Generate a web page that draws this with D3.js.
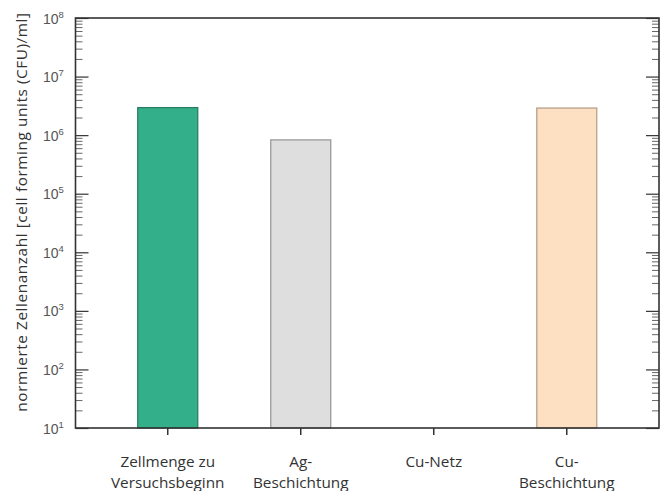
<!DOCTYPE html>
<html>
<head>
<meta charset="utf-8">
<script src="https://cdn.jsdelivr.net/npm/d3@7"></script>
<style>
  html, body { margin: 0; padding: 0; background: #fff; }
  svg { display: block; }
</style>
</head>
<body>
<svg id="chart" width="665" height="491"></svg>
<script>
// Cell counts per sample (CFU/ml); no bar where the count is below the axis
const categories = ["Zellmenge zu Versuchsbeginn", "Ag-Beschichtung", "Cu-Netz", "Cu-Beschichtung"];
const categoryLines = [["Zellmenge zu", "Versuchsbeginn"], ["Ag-", "Beschichtung"], ["Cu-Netz"], ["Cu-", "Beschichtung"]];
const cellCounts = [2.95e6, 8.3e5, null, 2.9e6];
const barFills = ["#33b08a", "#dedede", null, "#fddfc2"];
const barStrokes = ["#2b7e62", "#9a9a9a", null, "#b8a08a"];
const yExponents = [1, 2, 3, 4, 5, 6, 7, 8];
const yTitle = "normierte Zellenanzahl [cell forming units (CFU)/ml]";

const svg = d3.select("#chart");
const plotLeft = 75.5, plotRight = 659, plotTop = 18, plotBottom = 428;

const x = d3.scaleBand()
  .domain(categories)
  .range([plotLeft, plotRight])
  .paddingInner(0.549)
  .paddingOuter(0.468);

const y = d3.scaleLog()
  .domain([1e1, 1e8])
  .range([plotBottom, plotTop]);

// Bars
svg.append("g").selectAll("rect")
  .data(categories.map((c, i) => ({ c, v: cellCounts[i], fill: barFills[i], stroke: barStrokes[i] }))
    .filter(d => d.v != null))
  .join("rect")
  .attr("x", d => x(d.c))
  .attr("width", x.bandwidth())
  .attr("y", d => y(d.v))
  .attr("height", d => y(1e1) - y(d.v))
  .attr("fill", d => d.fill)
  .attr("stroke", d => d.stroke)
  .attr("stroke-width", 1.3);

// Major and minor log ticks for left and right axes (pointing inward)
const majorVals = yExponents.map(e => Math.pow(10, e));
const minorVals = [];
yExponents.slice(0, -1).forEach(e => {
  for (let m = 2; m <= 9; m++) minorVals.push(m * Math.pow(10, e));
});

const leftAxisMajor = d3.axisRight(y).tickValues(majorVals).tickSize(13).tickFormat("");
const leftAxisMinor = d3.axisRight(y).tickValues(minorVals).tickSize(7).tickFormat("");
const rightAxisMajor = d3.axisLeft(y).tickValues(majorVals).tickSize(13).tickFormat("");
const rightAxisMinor = d3.axisLeft(y).tickValues(minorVals).tickSize(7).tickFormat("");

function styleAxis(g) {
  g.select(".domain").remove();
  g.selectAll("line").attr("stroke", "#333").attr("stroke-width", 1.2);
}
svg.append("g").attr("transform", `translate(${plotLeft},0)`).call(leftAxisMajor).call(styleAxis);
svg.append("g").attr("transform", `translate(${plotLeft},0)`).call(leftAxisMinor).call(styleAxis)
  .selectAll("line").attr("stroke", "#666").attr("stroke-width", 1);
svg.append("g").attr("transform", `translate(${plotRight},0)`).call(rightAxisMajor).call(styleAxis);
svg.append("g").attr("transform", `translate(${plotRight},0)`).call(rightAxisMinor).call(styleAxis)
  .selectAll("line").attr("stroke", "#666").attr("stroke-width", 1);

// Y tick labels as powers of ten
const yLabels = svg.append("g");
yExponents.forEach(e => {
  const t = yLabels.append("text")
    .attr("x", 43)
    .attr("y", y(Math.pow(10, e)) + 5.5)
    .attr("font-family", "Liberation Sans, Arial, sans-serif")
    .attr("font-size", 14)
    .attr("fill", "#555");
  t.append("tspan").text("10");
  t.append("tspan").attr("dy", -6).attr("font-size", 9.5).text(e);
});

// X axis ticks (pointing down)
const xAxis = d3.axisBottom(x).tickSize(7).tickFormat("");
svg.append("g").attr("transform", `translate(0,${plotBottom})`).call(xAxis)
  .call(g => g.select(".domain").remove())
  .selectAll("line").attr("stroke", "#333").attr("stroke-width", 1.5);

// Frame
svg.append("rect")
  .attr("x", plotLeft).attr("y", plotTop)
  .attr("width", plotRight - plotLeft).attr("height", plotBottom - plotTop)
  .attr("fill", "none").attr("stroke", "#333").attr("stroke-width", 1.6);

// Category labels
const xl = svg.append("g");
categories.forEach((c, i) => {
  const t = xl.append("text")
    .attr("text-anchor", "middle")
    .attr("font-family", "Open Sans, sans-serif")
    .attr("font-size", 15.3)
    .attr("fill", "#333");
  categoryLines[i].forEach((line, j) => {
    t.append("tspan")
      .attr("x", x(c) + x.bandwidth() / 2)
      .attr("y", 467 + j * 21)
      .text(line);
  });
});

// Y axis title
svg.append("text")
  .attr("transform", `translate(27,212) rotate(-90)`)
  .attr("text-anchor", "middle")
  .attr("font-family", "Open Sans, sans-serif")
  .attr("font-size", 15.3)
  .attr("letter-spacing", 0.6)
  .attr("fill", "#333")
  .text(yTitle);
</script>
</body>
</html>
